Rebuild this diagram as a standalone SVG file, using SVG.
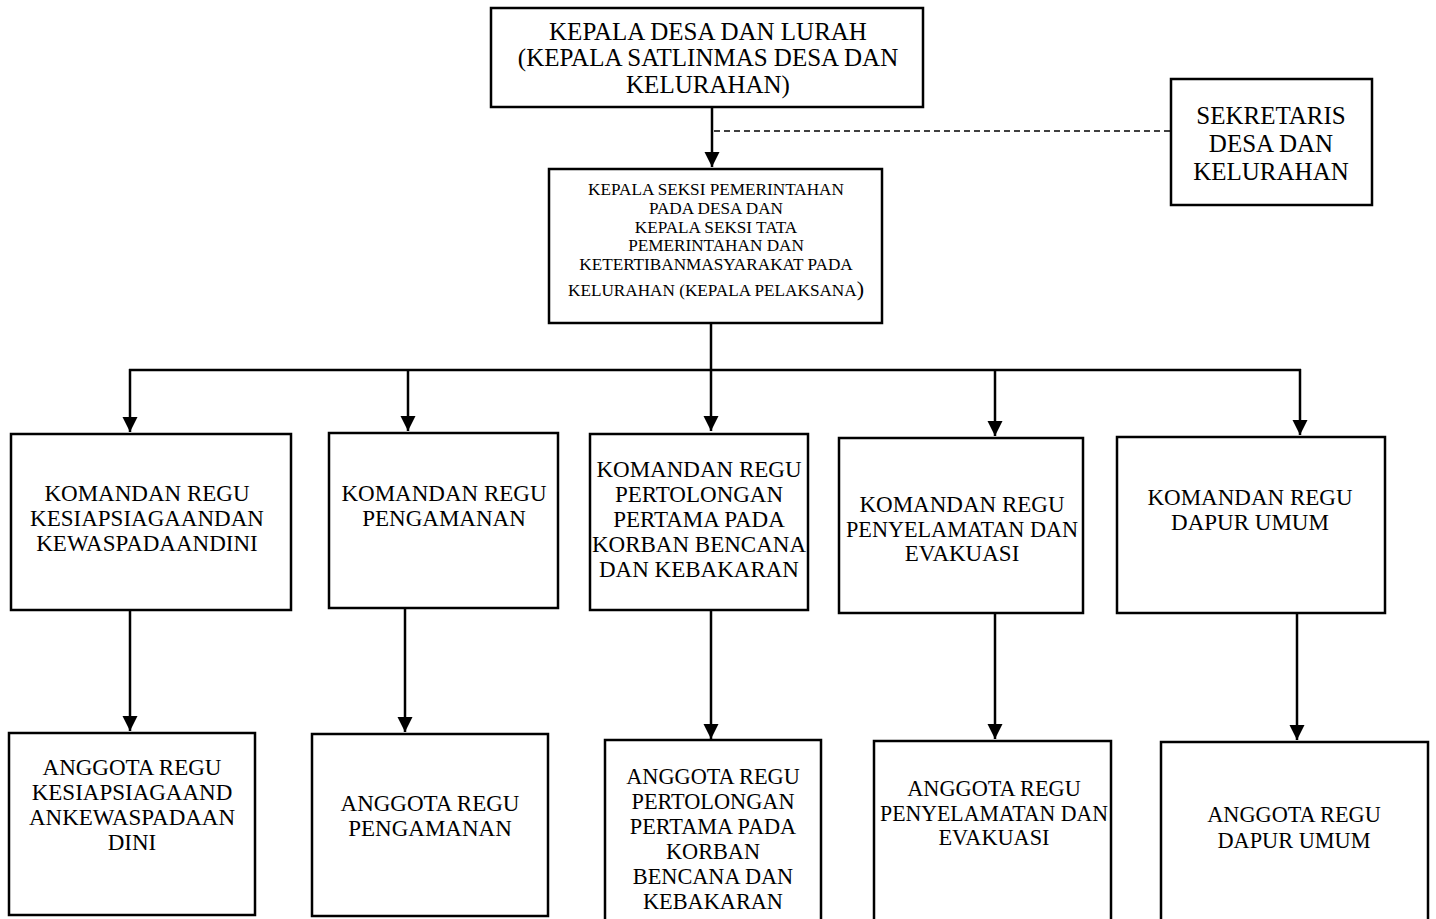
<svg xmlns="http://www.w3.org/2000/svg" width="1436" height="919" viewBox="0 0 1436 919">
<style>
.box{fill:#fff;stroke:#000;stroke-width:2.5}
.t{font-family:"Liberation Serif","Times New Roman",serif;fill:#000;text-anchor:middle}
.l{font-size:25px}
.m{font-size:23px}
.n{font-size:22.3px}
.s{font-size:17.2px}
.c{stroke:#000;stroke-width:2.5;fill:none}
.d{stroke:#000;stroke-width:1.5;fill:none;stroke-dasharray:6 4}
</style>
<defs>
<marker id="ah" viewBox="0 0 10 10" refX="10" refY="5" markerWidth="6" markerHeight="6.5" markerUnits="strokeWidth" orient="auto">
<path d="M0,0 L10,5 L0,10 z" fill="#000"/>
</marker>
</defs>
<rect width="1436" height="919" fill="#fff"/>
<g id="connectors">
<line class="c" x1="712" y1="108" x2="712" y2="167" marker-end="url(#ah)"/>
<line class="d" x1="714" y1="131" x2="1171" y2="131"/>
<line class="c" x1="711" y1="323" x2="711" y2="431" marker-end="url(#ah)"/>
<line class="c" x1="129" y1="370" x2="1301" y2="370"/>
<line class="c" x1="130" y1="369" x2="130" y2="432" marker-end="url(#ah)"/>
<line class="c" x1="408" y1="369" x2="408" y2="431" marker-end="url(#ah)"/>
<line class="c" x1="995" y1="369" x2="995" y2="436" marker-end="url(#ah)"/>
<line class="c" x1="1300" y1="369" x2="1300" y2="435" marker-end="url(#ah)"/>
<line class="c" x1="130" y1="610" x2="130" y2="731" marker-end="url(#ah)"/>
<line class="c" x1="405" y1="608" x2="405" y2="732" marker-end="url(#ah)"/>
<line class="c" x1="711" y1="610" x2="711" y2="739" marker-end="url(#ah)"/>
<line class="c" x1="995" y1="613" x2="995" y2="739" marker-end="url(#ah)"/>
<line class="c" x1="1297" y1="613" x2="1297" y2="740" marker-end="url(#ah)"/>
</g>
<g id="kepala-desa">
<rect class="box" x="491" y="8" width="432" height="99"/>
<text class="t l"><tspan x="708" y="40">KEPALA DESA DAN LURAH</tspan><tspan x="708" y="66">(KEPALA SATLINMAS DESA DAN</tspan><tspan x="708" y="93">KELURAHAN)</tspan></text>
</g>
<g id="sekretaris">
<rect class="box" x="1171" y="79" width="201" height="126"/>
<text class="t l"><tspan x="1271" y="124">SEKRETARIS</tspan><tspan x="1271" y="152">DESA DAN</tspan><tspan x="1271" y="180">KELURAHAN</tspan></text>
</g>
<g id="kepala-seksi">
<rect class="box" x="549" y="169" width="333" height="154"/>
<text class="t s"><tspan x="716" y="195">KEPALA SEKSI PEMERINTAHAN</tspan><tspan x="716" y="214">PADA DESA DAN</tspan><tspan x="716" y="233">KEPALA SEKSI TATA</tspan><tspan x="716" y="251">PEMERINTAHAN DAN</tspan><tspan x="716" y="270">KETERTIBANMASYARAKAT PADA</tspan><tspan x="716" y="296">KELURAHAN (KEPALA PELAKSANA<tspan style="font-size:22px">)</tspan></tspan></text>
</g>
<g id="danru-kesiapsiagaan">
<rect class="box" x="11" y="434" width="280" height="176"/>
<text class="t m"><tspan x="147" y="501">KOMANDAN REGU</tspan><tspan x="147" y="526">KESIAPSIAGAANDAN</tspan><tspan x="147" y="551">KEWASPADAANDINI</tspan></text>
</g>
<g id="danru-pengamanan">
<rect class="box" x="329" y="433" width="229" height="175"/>
<text class="t m"><tspan x="444" y="501">KOMANDAN REGU</tspan><tspan x="444" y="526">PENGAMANAN</tspan></text>
</g>
<g id="danru-pertolongan">
<rect class="box" x="590" y="434" width="218" height="176"/>
<text class="t m"><tspan x="699" y="477">KOMANDAN REGU</tspan><tspan x="699" y="502">PERTOLONGAN</tspan><tspan x="699" y="527">PERTAMA PADA</tspan><tspan x="699" y="552">KORBAN BENCANA</tspan><tspan x="699" y="577">DAN KEBAKARAN</tspan></text>
</g>
<g id="danru-penyelamatan">
<rect class="box" x="839" y="438" width="244" height="175"/>
<text class="t m"><tspan x="962" y="512">KOMANDAN REGU</tspan><tspan x="962" y="537" textLength="232" lengthAdjust="spacingAndGlyphs">PENYELAMATAN DAN</tspan><tspan x="962" y="561">EVAKUASI</tspan></text>
</g>
<g id="danru-dapur">
<rect class="box" x="1117" y="437" width="268" height="176"/>
<text class="t m"><tspan x="1250" y="505">KOMANDAN REGU</tspan><tspan x="1250" y="530">DAPUR UMUM</tspan></text>
</g>
<g id="anggota-kesiapsiagaan">
<rect class="box" x="9" y="733" width="246" height="182"/>
<text class="t m"><tspan x="132" y="775">ANGGOTA REGU</tspan><tspan x="132" y="800">KESIAPSIAGAAND</tspan><tspan x="132" y="825">ANKEWASPADAAN</tspan><tspan x="132" y="850">DINI</tspan></text>
</g>
<g id="anggota-pengamanan">
<rect class="box" x="312" y="734" width="236" height="182"/>
<text class="t m"><tspan x="430" y="811">ANGGOTA REGU</tspan><tspan x="430" y="836">PENGAMANAN</tspan></text>
</g>
<g id="anggota-pertolongan">
<rect class="box" x="605" y="740" width="216" height="190"/>
<text class="t n"><tspan x="713" y="784">ANGGOTA REGU</tspan><tspan x="713" y="809">PERTOLONGAN</tspan><tspan x="713" y="834">PERTAMA PADA</tspan><tspan x="713" y="859">KORBAN</tspan><tspan x="713" y="884">BENCANA DAN</tspan><tspan x="713" y="909">KEBAKARAN</tspan></text>
</g>
<g id="anggota-penyelamatan">
<rect class="box" x="874" y="741" width="237" height="190"/>
<text class="t n"><tspan x="994" y="796">ANGGOTA REGU</tspan><tspan x="994" y="821" textLength="228" lengthAdjust="spacingAndGlyphs">PENYELAMATAN DAN</tspan><tspan x="994" y="845">EVAKUASI</tspan></text>
</g>
<g id="anggota-dapur">
<rect class="box" x="1161" y="742" width="267" height="190"/>
<text class="t n"><tspan x="1294" y="822">ANGGOTA REGU</tspan><tspan x="1294" y="848">DAPUR UMUM</tspan></text>
</g>
</svg>
